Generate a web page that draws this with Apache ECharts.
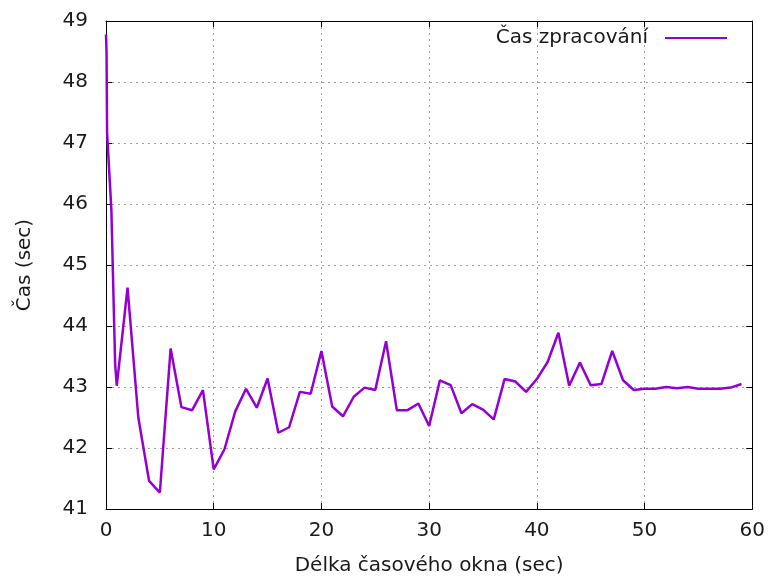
<!DOCTYPE html>
<html>
<head>
<meta charset="utf-8">
<script src="https://cdn.jsdelivr.net/npm/echarts@6/dist/echarts.min.js"></script>
<style>
html,body{margin:0;padding:0;background:#fff;}
#chart{width:768px;height:581px;}
</style>
</head>
<body>
<div id="chart"></div>
<script>
// Délka časového okna (sec)
const windowSec = [0, 0.05, 0.1, 0.5, 0.85, 1, 2, 3, 4, 5, 6, 7, 8, 9, 10, 11, 12, 13, 14, 15, 16, 17, 18, 19, 20,
  21, 22, 23, 24, 25, 26, 27, 28, 29, 30, 31, 32, 33, 34, 35, 36, 37, 38, 39, 40,
  41, 42, 43, 44, 45, 46, 47, 48, 49, 50, 51, 52, 53, 54, 55, 56, 57, 58, 59];
// Čas zpracování (sec)
const procTime = [48.78, 48.49, 47.17, 45.9, 43.37, 43.02, 44.63, 42.5, 41.46, 41.27, 43.63, 42.67, 42.62, 42.95, 41.65,
  41.98, 42.6, 42.97, 42.66, 43.14, 42.25, 42.34, 42.92, 42.89, 43.59,
  42.68, 42.52, 42.84, 42.99, 42.95, 43.75, 42.62, 42.62, 42.73, 42.36,
  43.11, 43.03, 42.57, 42.72, 42.63, 42.47, 43.13, 43.09, 42.92, 43.13,
  43.41, 43.89, 43.02, 43.40, 43.03, 43.05, 43.59, 43.11, 42.95, 42.97,
  42.97, 43.0, 42.98, 43.0, 42.97, 42.97, 42.97, 42.99, 43.05];
const xTicks = [0, 10, 20, 30, 40, 50, 60];
const yTicks = [41, 42, 43, 44, 45, 46, 47, 48, 49];
const seriesName = 'Čas zpracování';
const xName = 'Délka časového okna (sec)';
const yName = 'Čas (sec)';

const FONT = 'DejaVu Sans';
const TXT = '#1a1a1a';
const LINE = '#9400d3';
const xMin = xTicks[0], xMax = xTicks[xTicks.length - 1], xStep = xTicks[1] - xTicks[0];
const yMin = yTicks[0], yMax = yTicks[yTicks.length - 1], yStep = yTicks[1] - yTicks[0];

const gridLine = {show: true, lineStyle: {color: '#a0a0a0', width: 1, type: [2, 4]}};
const axLine = {show: true, onZero: false, lineStyle: {color: '#000', width: 1}};
const tick = {show: true, inside: true, length: 6, lineStyle: {color: '#000', width: 1}};

const chart = echarts.init(document.getElementById('chart'), null, {renderer: 'canvas'});
chart.setOption({
  animation: false,
  backgroundColor: '#fff',
  grid: {left: 106, right: 14, top: 21, bottom: 72, containLabel: false},
  legend: {
    show: true, right: 41, top: 28, padding: 0, align: 'right',
    itemWidth: 62, itemHeight: 2, icon: 'rect',
    itemStyle: {color: LINE},
    textStyle: {fontFamily: FONT, fontSize: 20, color: TXT, padding: [0, 12, 0, 0]},
    data: [seriesName]
  },
  xAxis: [{
    type: 'value', min: xMin, max: xMax, interval: xStep, position: 'bottom',
    name: xName, nameLocation: 'middle', nameGap: 47,
    nameTextStyle: {fontFamily: FONT, fontSize: 20, color: TXT},
    axisLine: axLine, axisTick: tick, splitLine: gridLine,
    axisLabel: {fontFamily: FONT, fontSize: 20, color: TXT, margin: 12}
  }, {
    type: 'value', min: xMin, max: xMax, interval: xStep, position: 'top',
    axisLine: axLine, axisTick: tick, splitLine: {show: false}, axisLabel: {show: false}
  }],
  yAxis: [{
    type: 'value', min: yMin, max: yMax, interval: yStep, position: 'left',
    name: yName, nameLocation: 'middle', nameGap: 71, nameRotate: 90,
    nameTextStyle: {fontFamily: FONT, fontSize: 20, color: TXT},
    axisLine: axLine, axisTick: tick, splitLine: gridLine,
    axisLabel: {fontFamily: FONT, fontSize: 20, color: TXT, margin: 18}
  }, {
    type: 'value', min: yMin, max: yMax, interval: yStep, position: 'right',
    axisLine: axLine, axisTick: tick, splitLine: {show: false}, axisLabel: {show: false}
  }],
  series: [{
    name: seriesName, type: 'line', xAxisIndex: 0, yAxisIndex: 0,
    symbol: 'none', showSymbol: false,
    lineStyle: {color: LINE, width: 2.5},
    itemStyle: {color: LINE},
    data: windowSec.map((x, i) => [x, procTime[i]])
  }]
});
</script>
</body>
</html>
